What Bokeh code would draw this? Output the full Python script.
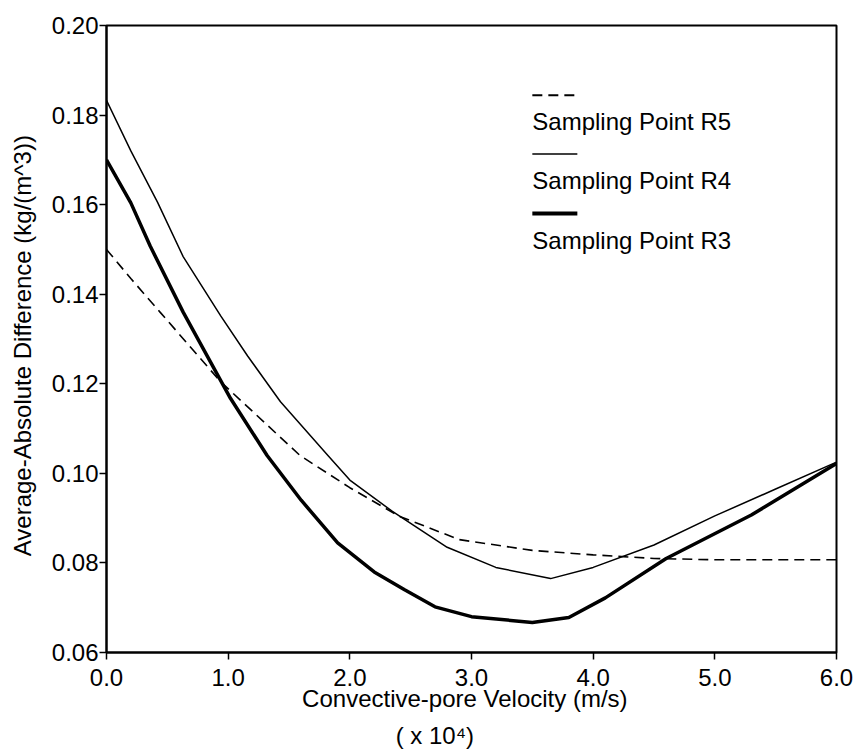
import math
from bokeh.plotting import figure
from bokeh.models import Range1d, FixedTicker, NumeralTickFormatter, Label
from bokeh.embed import file_html
from bokeh.resources import INLINE

# ---- data ----
x_r5 = [0.0, 0.2, 0.44, 0.94, 1.59, 2.0, 2.4, 2.9, 3.5, 4.0, 4.5, 5.0, 6.0]
r5 = [0.150, 0.1435, 0.136, 0.1204, 0.104, 0.0968, 0.0905, 0.0852, 0.0828, 0.0818, 0.0810, 0.0807, 0.0807]

x_r4 = [0.0, 0.2, 0.42, 0.63, 0.94, 1.16, 1.43, 1.82, 2.0, 2.35, 2.8, 3.2, 3.65, 4.0, 4.5, 5.0, 5.5, 6.0]
r4 = [0.1833, 0.172, 0.1605, 0.1484, 0.1351, 0.1262, 0.116, 0.104, 0.0985, 0.0915, 0.0835, 0.0790, 0.0765, 0.0790, 0.0840, 0.0905, 0.0965, 0.1025]

x_r3 = [0.0, 0.2, 0.36, 0.63, 1.02, 1.32, 1.6, 1.9, 2.2, 2.45, 2.7, 3.0, 3.5, 3.8, 4.1, 4.6, 5.3, 6.0]
r3 = [0.170, 0.1604, 0.1507, 0.136, 0.1167, 0.104, 0.094, 0.0845, 0.078, 0.074, 0.0702, 0.068, 0.0667, 0.0678, 0.0722, 0.0810, 0.0907, 0.1022]

x_ticks = [0, 1, 2, 3, 4, 5, 6]
y_ticks = [0.06, 0.08, 0.10, 0.12, 0.14, 0.16, 0.18, 0.20]
series_names = ["Sampling Point R5", "Sampling Point R4", "Sampling Point R3"]
x_title = "Convective-pore Velocity (m/s)"
x_title2 = "( x 10\u2074)"
y_title = "Average-Absolute Difference (kg/(m^3))"

FONT = "Liberation Sans"
FS = "24px"
NB = "\u00a0"

p = figure(width=856, height=751, output_backend="svg", toolbar_location=None,
           x_range=Range1d(0, 6), y_range=Range1d(0.06, 0.20),
           min_border_left=106, min_border_right=20, min_border_top=25, min_border_bottom=94)
p.background_fill_color = "white"
p.border_fill_color = "white"
p.xgrid.visible = False
p.ygrid.visible = False
p.outline_line_color = "black"
p.outline_line_width = 2
p.outline_line_alpha = 1.0

p.xaxis.ticker = FixedTicker(ticks=x_ticks)
p.yaxis.ticker = FixedTicker(ticks=y_ticks)
p.xaxis.formatter = NumeralTickFormatter(format="0.0")
p.yaxis.formatter = NumeralTickFormatter(format="0.00")
for ax in (p.xaxis, p.yaxis):
    ax.axis_line_width = 2
    ax.axis_line_color = "black"
    ax.major_tick_out = 7
    ax.major_tick_in = 0
    ax.major_tick_line_width = 1.5
    ax.minor_tick_out = 0
    ax.minor_tick_in = 0
    ax.major_label_text_font = FONT
    ax.major_label_text_font_size = FS
    ax.major_label_text_color = "black"
    ax.axis_label_text_font = FONT
    ax.axis_label_text_font_size = FS
    ax.axis_label_text_font_style = "normal"
    ax.axis_label_text_color = "black"
p.yaxis.major_label_standoff = 1
p.xaxis.major_label_standoff = 9

p.xaxis.axis_label = x_title + NB * 2 + "\n" + x_title2 + NB * 11
p.xaxis.axis_label_text_line_height = 1.38
p.xaxis.axis_label_standoff = -4
p.yaxis.axis_label = y_title + NB * 2
p.yaxis.axis_label_standoff = 13

# ---- data lines ----
p.line(x_r5, r5, line_color="black", line_width=1.6, line_dash="10 6")
p.line(x_r4, r4, line_color="black", line_width=1.5)
p.line(x_r3, r3, line_color="black", line_width=3.5)

# ---- legend (sample line above each text) ----
lx0, lx1 = 3.50, 3.87
p.line([lx0, lx1], [0.18444, 0.18444], line_color="black", line_width=2, line_dash="10 6")
p.line([lx0, lx1], [0.17133, 0.17133], line_color="black", line_width=1.5)
p.line([lx0, lx1], [0.1580, 0.1580], line_color="black", line_width=4)
for name, yb in zip(series_names, [0.17866, 0.16533, 0.15200]):
    p.add_layout(Label(x=lx0, y=yb, text=name, text_font=FONT, text_font_size=FS,
                       text_baseline="alphabetic", text_align="left", text_color="black"))

open("out.html", "w").write(file_html(p, INLINE))
